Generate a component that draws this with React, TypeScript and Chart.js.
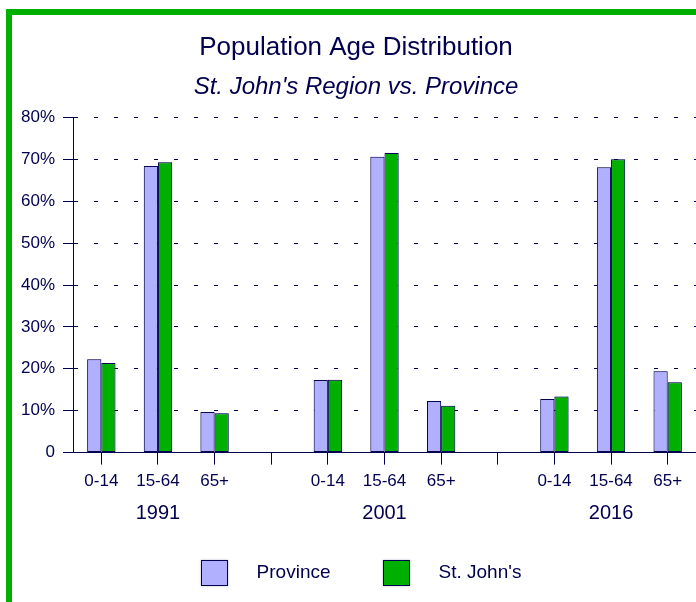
import React, { useEffect, useRef } from 'react';
import { Chart, registerables } from 'chart.js';

Chart.register(...registerables);

const categories = ['0-14', '15-64', '65+', '', '0-14', '15-64', '65+', '', '0-14', '15-64', '65+'];
const yearLabels = ['', '1991', '', '', '', '2001', '', '', '', '2016', ''];
const provinceValues = [22.3, 68.4, 9.7, null, 17.3, 70.6, 12.3, null, 12.8, 68.1, 19.4];
const stJohnsValues = [21.4, 69.3, 9.4, null, 17.4, 71.5, 11.2, null, 13.4, 70.0, 16.8];
const yTickLabels = ['0', '10%', '20%', '30%', '40%', '50%', '60%', '70%', '80%'];
const seriesNames = ['Province', "St. John's"];
const titleText = 'Population Age Distribution';
const subtitleText = "St. John's Region vs. Province";

const NAVY = '#00004f';
const FRAME_GREEN = '#00b000';
const PROVINCE_COLOR = '#b0b0ff';
const STJOHNS_COLOR = '#00b000';
const FONT = "'Liberation Sans', Arial, Helvetica, sans-serif";

const framePlugin = {
  id: 'greenFrame',
  beforeDraw(chart: any) {
    const ctx = chart.ctx;
    ctx.save();
    ctx.fillStyle = '#ffffff';
    ctx.fillRect(0, 0, chart.width, chart.height);
    ctx.fillStyle = FRAME_GREEN;
    ctx.fillRect(6, 9, chart.width - 6, 6);
    ctx.fillRect(6, 9, 6, chart.height - 9);
    ctx.restore();
  },
};

const shadowPlugin = {
  id: 'barShadow',
  beforeDatasetsDraw(chart: any) {
    const ctx = chart.ctx;
    ctx.save();
    ctx.shadowColor = 'rgba(40,40,110,0.35)';
    ctx.shadowBlur = 2;
    ctx.shadowOffsetX = 0;
    ctx.shadowOffsetY = 0;
  },
  afterDatasetsDraw(chart: any) {
    chart.ctx.restore();
  },
};

const legendPlugin = {
  id: 'customLegend',
  afterDraw(chart: any) {
    const ctx = chart.ctx;
    const box = 27;
    const boxH = 26;
    const gap = 29;
    const spacing = 52;
    const centerX = 361;
    const centerY = 573;
    ctx.save();
    ctx.font = `19px ${FONT}`;
    const items = chart.data.datasets.map((ds: any) => ({
      label: ds.label,
      color: ds.backgroundColor,
      w: ctx.measureText(ds.label).width,
    }));
    const total =
      items.reduce((s: number, it: any) => s + box + gap + it.w, 0) + spacing * (items.length - 1);
    let x = centerX - total / 2;
    items.forEach((it: any) => {
      const bx = Math.round(x);
      const by = Math.round(centerY - boxH / 2);
      ctx.shadowColor = 'rgba(40,40,110,0.35)';
      ctx.shadowBlur = 2;
      ctx.fillStyle = it.color;
      ctx.fillRect(bx, by, box, boxH);
      ctx.shadowBlur = 0;
      ctx.shadowColor = 'transparent';
      ctx.strokeStyle = NAVY;
      ctx.lineWidth = 1;
      ctx.strokeRect(bx + 0.5, by + 0.5, box - 1, boxH - 1);
      ctx.fillStyle = NAVY;
      ctx.textBaseline = 'middle';
      ctx.textAlign = 'left';
      ctx.fillText(it.label, x + box + gap, centerY);
      x += box + gap + it.w + spacing;
    });
    ctx.restore();
  },
};

export default function App() {
  const ref = useRef<HTMLCanvasElement>(null);

  useEffect(() => {
    const canvas = ref.current;
    if (!canvas) return;
    const chart = new Chart(canvas, {
      type: 'bar',
      data: {
        labels: categories,
        datasets: [
          {
            label: seriesNames[0],
            data: provinceValues,
            backgroundColor: PROVINCE_COLOR,
            borderColor: NAVY,
            borderWidth: 1,
            borderSkipped: false,
          },
          {
            label: seriesNames[1],
            data: stJohnsValues,
            backgroundColor: STJOHNS_COLOR,
            borderColor: NAVY,
            borderWidth: 1,
            borderSkipped: false,
          },
        ],
      },
      options: {
        responsive: false,
        animation: false,
        events: [],
        layout: { padding: { top: 14, left: 16, right: 0, bottom: 69.4 } },
        datasets: { bar: { categoryPercentage: 0.5, barPercentage: 1.0 } },
        plugins: {
          legend: { display: false },
          tooltip: { enabled: false },
          title: {
            display: true,
            text: titleText,
            color: NAVY,
            font: { family: FONT, size: 26, weight: 'normal' },
            padding: { top: 18, bottom: 0 },
          },
          subtitle: {
            display: true,
            text: subtitleText,
            color: NAVY,
            font: { family: FONT, size: 24, style: 'italic', weight: 'normal' },
            padding: { top: 9.4, bottom: 16 },
          },
        },
        scales: {
          x: {
            type: 'category',
            position: 'bottom',
            weight: 0,
            offset: true,
            grid: {
              display: true,
              drawOnChartArea: false,
              drawTicks: true,
              tickLength: 12,
              tickColor: NAVY,
              tickWidth: 1,
              offset: false,
              color: NAVY,
            },
            border: { display: true, color: NAVY, width: 1 },
            ticks: {
              color: NAVY,
              font: { family: FONT, size: 17 },
              padding: 7,
              autoSkip: false,
              maxRotation: 0,
              minRotation: 0,
            },
            afterFit: (s: any) => {
              s.height = 40;
            },
          },
          x2: {
            type: 'category',
            position: 'bottom',
            weight: 1,
            offset: true,
            labels: yearLabels,
            grid: { display: false, drawTicks: false, drawOnChartArea: false },
            border: { display: false },
            ticks: {
              color: NAVY,
              font: { family: FONT, size: 20 },
              padding: 8.7,
              autoSkip: false,
              maxRotation: 0,
              minRotation: 0,
            },
            afterFit: (s: any) => {
              s.height = 40;
            },
          },
          y: {
            min: 0,
            max: 80,
            ticks: {
              stepSize: 10,
              color: NAVY,
              font: { family: FONT, size: 17 },
              padding: 8,
              callback: (_v: any, i: number) => yTickLabels[i],
            },
            grid: {
              color: NAVY,
              lineWidth: 1,
              drawTicks: true,
              tickLength: 10,
              tickColor: NAVY,
              tickWidth: 1,
              tickBorderDash: [],
            },
            border: { display: true, color: NAVY, width: 1, dash: [4, 16], dashOffset: 0 },
            afterFit: (s: any) => {
              s.width = 57;
            },
          },
        },
      } as any,
      plugins: [framePlugin, shadowPlugin, legendPlugin],
    });
    return () => chart.destroy();
  }, []);

  return (
    <div style={{ position: 'fixed', left: 0, top: 0, width: 696, height: 602, background: '#ffffff' }}>
      <canvas ref={ref} width={696} height={602} style={{ display: 'block', width: 696, height: 602 }} />
    </div>
  );
}
